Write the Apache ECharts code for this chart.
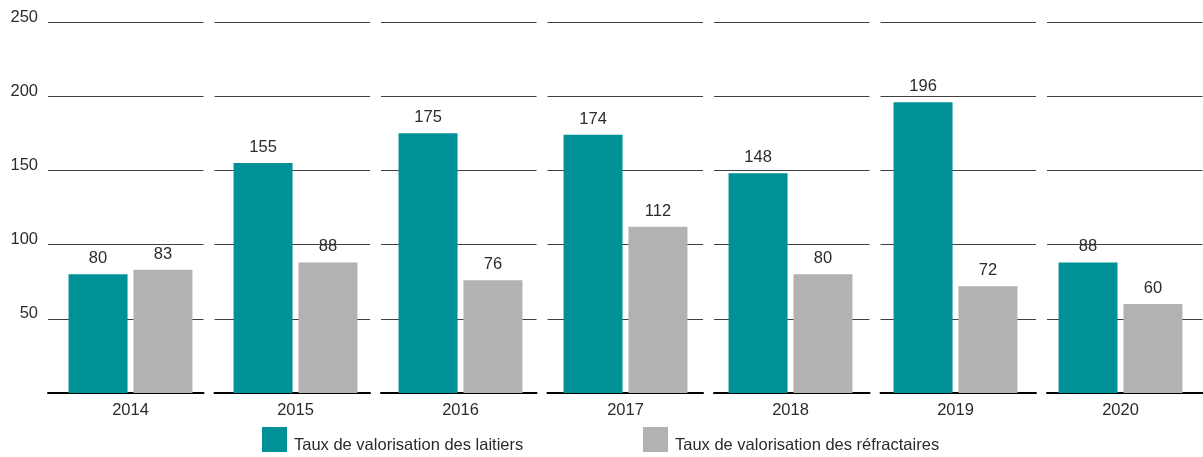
<!DOCTYPE html>
<html>
<head>
<meta charset="utf-8">
<script src="https://cdn.jsdelivr.net/npm/echarts@6/dist/echarts.min.js"></script>
<style>
  html, body { margin: 0; padding: 0; background: #fff; }
  #chart { width: 1203px; height: 457px; }
</style>
</head>
<body>
<div id="chart"></div>
<script>
const years = ['2014', '2015', '2016', '2017', '2018', '2019', '2020'];
const laitiers = [80, 155, 175, 174, 148, 196, 88];
const refractaires = [83, 88, 76, 112, 80, 72, 60];
const seriesNames = ['Taux de valorisation des laitiers', 'Taux de valorisation des réfractaires'];

const font = 'Liberation Sans, Arial, sans-serif';
const textColor = '#2b2b2b';
// segmented lines, one piece per year
const segments = [155.5, 11];

const chart = echarts.init(document.getElementById('chart'));

const barLabel = {
  show: true,
  position: 'top',
  distance: 7,
  color: textColor,
  fontFamily: font,
  fontSize: 16.5
};

// legend text sits low, baseline near the bottom of the square
function legendAt(name, left) {
  return {
    data: [name],
    left: left, top: 427, padding: 0,
    itemWidth: 25, itemHeight: 25,
    icon: 'rect',
    formatter: '{t|{name}}',
    textStyle: {
      rich: {
        t: { color: textColor, fontFamily: font, fontSize: 16.5, padding: [12, 0, 0, 2] }
      }
    }
  };
}

chart.setOption({
  animation: false,
  grid: { left: 48, right: 0, top: 22, bottom: 64 },
  legend: [legendAt(seriesNames[0], 262), legendAt(seriesNames[1], 643)],
  xAxis: {
    type: 'category',
    data: years,
    axisTick: { show: false },
    axisLine: { lineStyle: { color: '#000', width: 2, type: segments } },
    axisLabel: { color: textColor, fontFamily: font, fontSize: 16.5, margin: 9 }
  },
  yAxis: {
    type: 'value',
    min: 0,
    max: 250,
    interval: 50,
    axisLine: { show: false },
    axisTick: { show: false },
    axisLabel: {
      color: textColor, fontFamily: font, fontSize: 16.5, margin: 10,
      verticalAlign: 'bottom',
      lineHeight: 10,
      formatter: v => (v === 0 ? '' : v)
    },
    splitLine: { lineStyle: { color: '#404040', width: 1, type: segments } }
  },
  series: [
    {
      name: seriesNames[0],
      type: 'bar',
      data: laitiers,
      barWidth: 59,
      barGap: '10%',
      itemStyle: { color: '#009196' },
      label: barLabel
    },
    {
      name: seriesNames[1],
      type: 'bar',
      data: refractaires,
      barWidth: 59,
      itemStyle: { color: '#b2b2b2' },
      label: barLabel
    }
  ]
});
</script>
</body>
</html>
